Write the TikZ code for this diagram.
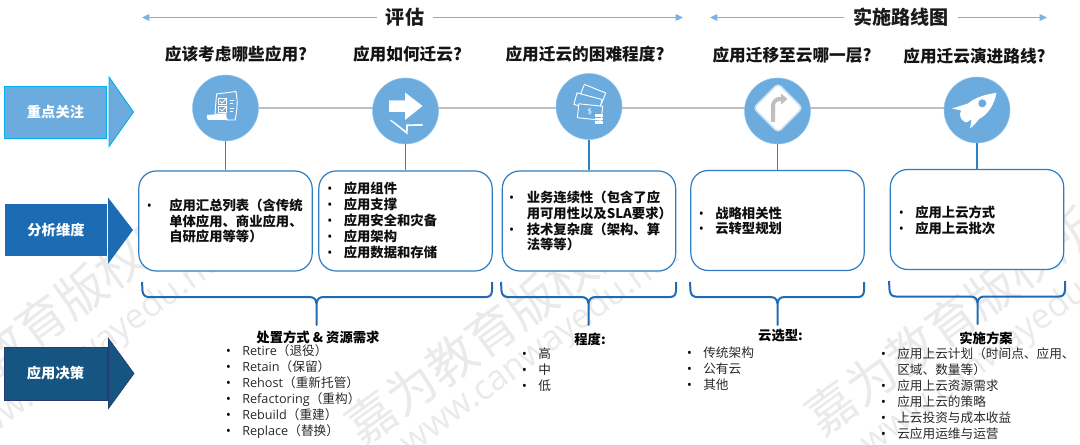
\documentclass[tikz,border=0pt]{standalone}
\usepackage{fontspec}
\usepackage{amsmath}
\setmainfont{Noto Sans CJK SC}
\newfontfamily\latfont{Open Sans}
\usetikzlibrary{arrows.meta}
\usetikzlibrary{positioning}
\newcommand{\dotmark}{{\mdseries\latfont\textcolor{black}{\textbullet}}}
\newcommand{\bul}{\llap{\dotmark\hspace{8.6pt}}}

\tikzset{
  rangearrow/.style={draw={rgb, 255:red, 122; green, 178; blue, 226 }, line width=0.9pt, -{Triangle[length=5.5pt,width=5pt]}},
  rangelabel/.style={inner sep=6.5pt, text={rgb, 255:red, 26; green, 26; blue, 26 }, font=\fontsize{14.3}{16}\selectfont\bfseries},
  question/.style={font=\fontsize{12.5}{15}\selectfont\bfseries, text={rgb, 255:red, 20; green, 20; blue, 20 }},
  band/.style={minimum height=39.5pt, inner sep=0pt, text=white, font=\fontsize{10.7}{13}\selectfont\bfseries},
  iconcircle/.style={circle, minimum size=49.5pt, inner sep=0pt, fill={rgb, 255:red, 108; green, 171; blue, 221 }, draw={rgb, 255:red, 150; green, 198; blue, 236 }, line width=0.4pt},
  iconline/.style={draw=white, line width=0.7pt, line join=round},
  iconfill/.style={fill=white, draw=none},
  spine/.style={draw={rgb, 255:red, 191; green, 191; blue, 191 }, line width=1.8pt},
  stem/.style={draw={rgb, 255:red, 46; green, 131; blue, 197 }, line width=1pt},
  infobox/.style={rectangle, rounded corners=13pt, minimum width=130pt, minimum height=75pt, inner sep=0pt, fill=white, draw={rgb, 255:red, 46; green, 125; blue, 192 }, line width=0.9pt},
  boxtext/.style={anchor=west, align=left, inner sep=0pt, font=\fontsize{10}{11.85}\selectfont\bfseries, text={rgb, 255:red, 15; green, 15; blue, 15 }},
  bracket/.style={draw={rgb, 255:red, 31; green, 108; blue, 180 }, line width=1.5pt, line join=round},
  listhead/.style={inner sep=0pt, font=\fontsize{10}{12}\selectfont\bfseries},
  listtext/.style={anchor=west, align=left, inner sep=0pt, font=\fontsize{9.5}{11.9}\selectfont, text={rgb, 255:red, 40; green, 40; blue, 40 }},
  wmark/.style={rotate=36, text={rgb, 255:red, 234; green, 234; blue, 234 }, inner sep=0pt},
  wmarkcn/.style={wmark, font=\fontsize{37}{40}\selectfont},
  wmarkurl/.style={wmark, font=\fontsize{26}{30}\selectfont\latfont},
}

\begin{document}
\begin{tikzpicture}[x=0.75pt,y=0.75pt,yscale=-1,xscale=1]
\useasboundingbox (0,0) rectangle (1080,445);
\clip (0,0) rectangle (1080,445);

% Watermark
\draw (61,306) node [wmarkcn] (markCnA) {嘉为教育版权所有};
\draw (511,316) node [wmarkcn] (markCnB) {嘉为教育版权所有};
\draw (971,306) node [wmarkcn] (markCnC) {嘉为教育版权所有};
\draw (94,350) node [wmarkurl] (markUrlA) {www.canwayedu.net};
\draw (540,350) node [wmarkurl] (markUrlB) {www.canwayedu.net};
\draw (1000,350) node [wmarkurl] (markUrlC) {www.canwayedu.net};

% Top ranges
\draw (405,17.5) node [rangelabel] (rangeEval) {评估};
\draw (901,17.5) node [rangelabel] (rangeRoad) {实施路线图};
\coordinate (rangeEvalL) at (142,17.5);
\coordinate (rangeEvalR) at (683,17.5);
\coordinate (rangeRoadL) at (710,17.5);
\coordinate (rangeRoadR) at (1047,17.5);
\draw [rangearrow] (rangeEval) -- (rangeEvalL);
\draw [rangearrow] (rangeEval) -- (rangeEvalR);
\draw [rangearrow] (rangeRoad) -- (rangeRoadL);
\draw [rangearrow] (rangeRoad) -- (rangeRoadR);

% Questions
\draw (236,54) node [question] (askA) {应该考虑哪些应用?};
\draw (407.5,54.5) node [question] (askB) {应用如何迁云?};
\draw (585,54) node [question] (askC) {应用迁云的困难程度?};
\draw (792,55) node [question] (askD) {应用迁移至云哪一层?};
\draw (974.5,56) node [question] (askE) {应用迁云演进路线?};

% Left bands
\draw (55.5,112.5) node [band, minimum width=77pt, fill={rgb, 255:red, 108; green, 171; blue, 221 }, draw={rgb, 255:red, 0; green, 176; blue, 240 }, line width=0.7pt] (bandFocus) {重点关注};
\draw [fill={rgb, 255:red, 108; green, 171; blue, 221 }, draw={rgb, 255:red, 0; green, 176; blue, 240 }, line width=0.7pt] (109,77) -- (133.5,112) -- (109,146.5) -- cycle;
\draw (56,230) node [band, minimum width=76pt, fill={rgb, 255:red, 27; green, 108; blue, 179 }] (bandAnalysis) {分析维度};
\draw [fill={rgb, 255:red, 27; green, 108; blue, 179 }, draw=none] (108,197.5) -- (133,230) -- (108,264) -- cycle;
\draw (55.5,373.5) node [band, minimum width=77pt, fill={rgb, 255:red, 22; green, 84; blue, 130 }, draw={rgb, 255:red, 38; green, 60; blue, 110 }, line width=0.5pt] (bandDecision) {应用决策};
\draw [fill={rgb, 255:red, 22; green, 84; blue, 130 }, draw={rgb, 255:red, 38; green, 60; blue, 110 }, line width=0.5pt] (108.5,338.5) -- (134,373.5) -- (108.5,408.5) -- cycle;

% Spine behind the circles
\coordinate (spineL) at (225.5,108);
\coordinate (spineR) at (977,108);
\draw [spine] (spineL) -- (spineR);

% Circles
\draw (225.5,108) node [iconcircle] (circA) {};
\draw (405.5,111) node [iconcircle] (circB) {};
\draw (589,106.5) node [iconcircle] (circC) {};
\draw (777.5,111) node [iconcircle] (circD) {};
\draw (977,110) node [iconcircle] (circE) {};

% Info boxes
\draw (225.5,221) node [infobox] (boxA) {};
\draw (405.5,221) node [infobox] (boxB) {};
\draw (589,221) node [infobox] (boxC) {};
\draw (777.5,220.5) node [infobox] (boxD) {};
\draw (977,219.5) node [infobox] (boxE) {};

% Stems
\draw [stem] (circA) -- (boxA);
\draw [stem] (circB) -- (boxB);
\draw [stem] (circC) -- (boxC);
\draw [stem] (circD) -- (boxD);
\draw [stem] (circE) -- (boxE);

% Icon: checklist
\draw [iconline] (226,114) -- (215,114) -- (216.5,94) -- (236,91.5) .. controls (238,102) and (237,112) .. (235,120) -- (226,120);
\draw [iconfill] (207,115) -- (226.5,113.5) .. controls (226,116) and (226,118) .. (228,120) -- (208,120) .. controls (206.5,118.5) and (206.5,116.5) .. (207,115) -- cycle;
\draw [iconline, line width=0.6pt] (218.5,98.5) rectangle (226,104.5);
\draw [iconline, line width=0.6pt] (218.5,106.5) rectangle (226,112);
\draw [iconline, line width=0.6pt] (220,101) -- (222,103) -- (227,98);
\draw [iconline, line width=0.6pt] (220,109) -- (222,111) -- (227,106);
\draw [iconline, line width=0.6pt] (229.5,100) -- (234,100);
\draw [iconline, line width=0.6pt] (229.5,103) -- (233,103);
\draw [iconline, line width=0.6pt] (229.5,108) -- (234,108);
\draw [iconline, line width=0.6pt] (229.5,111) -- (233,111);

% Icon: migrate arrow
\draw [iconfill] (389,100.5) -- (405,100.5) -- (405,92.5) -- (422.5,106) -- (405,120) -- (405,112) -- (389,112) -- cycle;
\draw [iconfill] (389.5,120) -- (391.5,120) -- (406,131) -- (406,124.5) -- (422.5,124) -- (422.5,126) -- (408,126) -- (407.5,134.5) -- cycle;

% Icon: banknotes
\draw [iconline, rotate around={22:(592,95)}] (581,88) rectangle (604,100);
\draw [iconline, rotate around={15:(588,102)}, fill={rgb, 255:red, 108; green, 171; blue, 221 }] (575,96) rectangle (601,108);
\draw [iconline, fill={rgb, 255:red, 108; green, 171; blue, 221 }, rotate around={6:(590,112)}] (578,105) rectangle (602,119);
\draw (590,112) node [inner sep=0pt, text=white, font=\fontsize{6}{6}\selectfont\latfont] (billSign) {\$};
\draw [iconfill] (594.5,114.5) rectangle (603,117);
\draw [iconfill] (594.5,118) rectangle (603,120.5);
\draw [iconfill] (594.5,121.5) rectangle (603,124);

% Icon: road sign
\draw [rounded corners=3pt, fill=white, draw={rgb, 255:red, 200; green, 224; blue, 243 }, line width=1.2pt] (778,83.5) -- (802.5,108) -- (778,132.5) -- (753.5,108) -- cycle;
\draw [draw={rgb, 255:red, 191; green, 191; blue, 191 }, line width=3pt, rounded corners=5pt] (773,122) -- (773,99) -- (782,99);
\draw [fill={rgb, 255:red, 191; green, 191; blue, 191 }, draw=none] (781,93.5) -- (787.5,99) -- (781,104.5) -- cycle;

% Icon: rocket
\draw [iconfill] (996.5,93) .. controls (989,93.5) and (975,97) .. (968,103.5) -- (952,108.5) .. controls (955,109) and (958,110) .. (961,110.5) .. controls (959,115) and (960,120) .. (966,122.5) .. controls (968,122) and (969,121) .. (971,119.5) -- (971.5,121) -- (970,128.5) .. controls (974,125) and (977,122) .. (979,119) .. controls (987,115) and (994,106) .. (996.5,93) -- cycle;
\draw [fill={rgb, 255:red, 108; green, 171; blue, 221 }, draw=none] (982.3,103.3) circle [radius=4];

% Brackets
\draw [bracket] (142,282) -- (142.5,291) .. controls (143,295) and (145,297) .. (149,297) -- (309,297) .. controls (314,297) and (316,299) .. (316.5,304) -- (316.5,325) -- (316.5,304) .. controls (317,299) and (319,297) .. (324,297) -- (486,297) .. controls (490,297) and (491.5,295) .. (492,291) -- (492,282);
\draw [bracket] (501,282) -- (501.5,291) .. controls (502,295) and (504,297) .. (508,297) -- (581,297) .. controls (586,297) and (588,299) .. (588.5,304) -- (588.5,325) -- (588.5,304) .. controls (589,299) and (591,297) .. (596,297) -- (670,297) .. controls (674,297) and (675.5,295) .. (676,291) -- (676,282);
\draw [bracket] (690,282) -- (690.5,291) .. controls (691,295) and (693,297) .. (697,297) -- (770,297) .. controls (775,297) and (777,299) .. (777.5,304) -- (777.5,325) -- (777.5,304) .. controls (778,299) and (780,297) .. (785,297) -- (858,297) .. controls (862,297) and (863.5,295) .. (864,291) -- (864,282);
\draw [bracket] (889,281) -- (889.5,290) .. controls (890,294.5) and (892,296.5) .. (896,296.5) -- (970,296.5) .. controls (975,296.5) and (977,298.5) .. (977.5,303) -- (977.5,324) -- (977.5,303) .. controls (978,298.5) and (980,296.5) .. (985,296.5) -- (1059,296.5) .. controls (1063,296.5) and (1064.5,294.5) .. (1065,290) -- (1065,281);

% Box texts
\draw (169,221) node [boxtext] (textA) {\llap{\dotmark\hspace{13pt}}应用汇总列表（含传统\\单体应用、商业应用、\\自研应用等等）};
\draw (343.5,220.5) node [boxtext] (textB) {\bul 应用组件\\\bul 应用支撑\\\bul 应用安全和灾备\\\bul 应用架构\\\bul 应用数据和存储};
\draw (526.5,221) node [boxtext] (textC) {\llap{\dotmark\hspace{9.5pt}}业务连续性（包含了应\\用可用性以及SLA要求）\\\llap{\dotmark\hspace{9.5pt}}技术复杂度（架构、算\\法等等）};
\draw (715,221) node [boxtext] (textD) {\bul 战略相关性\\\bul 云转型规划};
\draw (915,220.5) node [boxtext] (textE) {\bul 应用上云方式\\\bul 应用上云批次};

% List heads
\draw (318,337) node [listhead] (headA) {处置方式 \& 资源需求};
\draw (590,339) node [listhead] (headB) {程度:};
\draw (780.5,336) node [listhead] (headC) {云选型:};
\draw (986,338) node [listhead] (headD) {实施方案};

% List texts
\draw (242,391.5) node [listtext] (listA) {\bul{\latfont Retire}（退役）\\\bul{\latfont Retain}（保留）\\\bul{\latfont Rehost}（重新托管）\\\bul{\latfont Refactoring}（重构）\\\bul{\latfont Rebuild}（重建）\\\bul{\latfont Replace}（替换）};
\draw (538,370) node [listtext] (listB) {\bul 高\\\bul 中\\\bul 低};
\draw (703,368.5) node [listtext] (listC) {\bul 传统架构\\\bul 公有云\\\bul 其他};
\draw (897,393.5) node [listtext] (listD) {\bul 应用上云计划（时间点、应用、\\区域、数量等）\\\bul 应用上云资源需求\\\bul 应用上云的策略\\\bul 上云投资与成本收益\\\bul 云应用运维与运营};

\end{tikzpicture}
\end{document}
